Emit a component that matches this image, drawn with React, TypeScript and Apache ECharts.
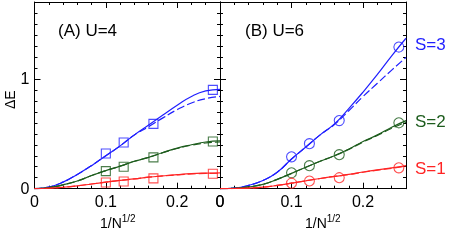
import React, { useEffect, useRef } from "react";
import * as echarts from "echarts";

// ---- data ----
const pointX = [0.1, 0.125, 0.1667, 0.25];
const curveX = [0, 0.02, 0.04, 0.06, 0.08, 0.1, 0.12, 0.14, 0.16, 0.18, 0.2, 0.22, 0.24, 0.26];

// Panel A (U=4) measured points
const aS3 = [0.32, 0.42, 0.59, 0.9];
const aS2 = [0.16, 0.2, 0.285, 0.43];
const aS1 = [0.057, 0.066, 0.094, 0.136];
// Panel A fit curves
const aS3Solid = [0, 0.015, 0.06, 0.13, 0.21, 0.3, 0.39, 0.49, 0.58, 0.67, 0.76, 0.84, 0.89, 0.905];
const aS3Dash = [0, 0.015, 0.06, 0.13, 0.21, 0.3, 0.39, 0.49, 0.565, 0.645, 0.72, 0.78, 0.82, 0.84];
const aS2Solid = [0, 0.01, 0.035, 0.07, 0.12, 0.165, 0.205, 0.25, 0.285, 0.33, 0.37, 0.4, 0.425, 0.435];
const aS2Dash = [0, 0.01, 0.035, 0.07, 0.12, 0.165, 0.205, 0.25, 0.285, 0.328, 0.366, 0.396, 0.416, 0.425];
const aS1Solid = [0, 0.004, 0.013, 0.026, 0.043, 0.06, 0.076, 0.09, 0.105, 0.117, 0.128, 0.137, 0.142, 0.145];
const aS1Dash = [0, 0.004, 0.013, 0.026, 0.043, 0.06, 0.076, 0.09, 0.105, 0.116, 0.126, 0.134, 0.139, 0.141];

// Panel B (U=6) measured points
const bS3 = [0.29, 0.41, 0.62, 1.29];
const bS2 = [0.145, 0.21, 0.31, 0.6];
const bS1 = [0.05, 0.07, 0.1, 0.19];
// Panel B fit curves
const bS3Solid = [0, 0.006, 0.03, 0.075, 0.15, 0.27, 0.38, 0.49, 0.59, 0.73, 0.88, 1.04, 1.21, 1.37];
const bS3Dash = [0, 0.006, 0.03, 0.075, 0.15, 0.27, 0.38, 0.49, 0.585, 0.71, 0.84, 0.96, 1.08, 1.195];
const bS2Solid = [0, 0.004, 0.016, 0.04, 0.085, 0.14, 0.195, 0.25, 0.3, 0.36, 0.43, 0.49, 0.56, 0.62];
const bS2Dash = [0, 0.004, 0.016, 0.04, 0.085, 0.14, 0.195, 0.25, 0.3, 0.358, 0.425, 0.485, 0.55, 0.607];
const bS1Solid = [0, 0.002, 0.006, 0.014, 0.03, 0.05, 0.072, 0.093, 0.112, 0.13, 0.152, 0.172, 0.19, 0.21];
const bS1Dash = [0, 0.002, 0.006, 0.014, 0.03, 0.05, 0.072, 0.093, 0.112, 0.129, 0.15, 0.169, 0.186, 0.204];

const panelTitles = ["(A) U=4", "(B) U=6"];
const seriesLabels = ["S=3", "S=2", "S=1"];

const BLUE = "#1f1fff";
const GREEN = "#1d5c1d";
const RED = "#ff2424";
const FONT = "Liberation Sans, Arial, sans-serif";

const zip = (xs: number[], ys: number[]) => xs.map((x, i) => [x, ys[i]]);

export default function App() {
  const ref = useRef<HTMLDivElement>(null);
  useEffect(() => {
    if (!ref.current) return;
    const chart = echarts.init(ref.current, undefined, { renderer: "svg" });

    const xBase = (grid: number, pos: "bottom" | "top", labels: boolean) => ({
      type: "value",
      gridIndex: grid,
      position: pos,
      min: 0,
      max: 0.26,
      interval: 0.1,
      axisLine: { show: true, onZero: false, lineStyle: { color: "#000", width: 1 } },
      axisTick: { show: true, inside: true, length: 6, lineStyle: { color: "#000" } },
      minorTick: { show: true, splitNumber: 5, length: 3, lineStyle: { color: "#000" } },
      splitLine: { show: false },
      axisLabel: {
        show: labels,
        showMinLabel: true,
        showMaxLabel: false,
        hideOverlap: false,
        color: "#000",
        fontSize: 16,
        fontFamily: FONT,
        margin: 5,
        formatter: (v: number) => String(Math.round(v * 10) / 10),
      },
    });
    const yBase = (grid: number, pos: "left" | "right", labels: boolean) => ({
      type: "value",
      gridIndex: grid,
      position: pos,
      min: 0,
      max: 1.7,
      interval: 1,
      axisLine: { show: true, onZero: false, lineStyle: { color: "#000", width: 1 } },
      axisTick: { show: true, inside: true, length: 6, lineStyle: { color: "#000" } },
      minorTick: { show: true, splitNumber: 10, length: 3, lineStyle: { color: "#000" } },
      splitLine: { show: false },
      axisLabel: { show: labels, showMinLabel: true, showMaxLabel: false, color: "#000", fontSize: 16, fontFamily: FONT, margin: 5 },
    });

    const lineSeries = (xi: number, data: number[], color: string, dashed: boolean) => ({
      type: "line",
      xAxisIndex: xi,
      yAxisIndex: xi,
      data: zip(curveX, data),
      smooth: true,
      symbol: "none",
      lineStyle: { color, width: 1.2, type: dashed ? [8, 3] : "solid" },
      z: 2,
    });
    const markSeries = (xi: number, data: number[], color: string, symbol: string, size: number) => ({
      type: "scatter",
      xAxisIndex: xi,
      yAxisIndex: xi,
      data: zip(pointX, data),
      symbol,
      symbolSize: size,
      itemStyle: { color: "transparent", borderColor: color, borderWidth: 1.1 },
      z: 3,
    });

    const series: any[] = [];
    const panels = [
      { xi: 0, sym: "rect", size: 9, sets: [[aS3, aS3Solid, aS3Dash, BLUE], [aS2, aS2Solid, aS2Dash, GREEN], [aS1, aS1Solid, aS1Dash, RED]] },
      { xi: 2, sym: "circle", size: 10, sets: [[bS3, bS3Solid, bS3Dash, BLUE], [bS2, bS2Solid, bS2Dash, GREEN], [bS1, bS1Solid, bS1Dash, RED]] },
    ];
    panels.forEach((p) => {
      p.sets.forEach((s: any) => {
        series.push(lineSeries(p.xi, s[1], s[3], false));
        series.push(lineSeries(p.xi, s[2], s[3], true));
        series.push(markSeries(p.xi, s[0], s[3], p.sym, p.size));
      });
    });

    const axisName = (left: number) => ({
      type: "text",
      left,
      top: 213,
      style: {
        text: "{a|1/N}{b|1/2}",
        rich: {
          a: { fontSize: 14, fontFamily: FONT, fill: "#000", color: "#000" },
          b: { fontSize: 10, fontFamily: FONT, fill: "#000", color: "#000", padding: [0, 0, 9, 0] },
        },
      },
    });

    const bottomA: any = xBase(0, "bottom", true);
    // the right edge of panel A is the origin of panel B: its label reads "0"
    bottomA.axisLabel = {
      ...bottomA.axisLabel,
      showMaxLabel: true,
      formatter: (v: number) => (v > 0.25 ? "0" : String(Math.round(v * 10) / 10)),
    };

    chart.setOption({
      animation: false,
      grid: [
        { left: 34.5, top: 2, width: 185.5, height: 186.7 },
        { left: 220, top: 2, width: 186, height: 186.7 },
      ],
      xAxis: [bottomA, xBase(0, "top", false), xBase(1, "bottom", true), xBase(1, "top", false)],
      yAxis: [yBase(0, "left", true), yBase(0, "right", false), yBase(1, "left", false), yBase(1, "right", false)],
      series,
      graphic: [
        { type: "text", left: 58, top: 22, style: { text: panelTitles[0], fontSize: 17, fontFamily: FONT, fill: "#000" } },
        { type: "text", left: 245, top: 22, style: { text: panelTitles[1], fontSize: 17, fontFamily: FONT, fill: "#000" } },
        { type: "text", left: 415, top: 36, style: { text: seriesLabels[0], fontSize: 17, fontFamily: FONT, fill: BLUE } },
        { type: "text", left: 415, top: 113, style: { text: seriesLabels[1], fontSize: 17, fontFamily: FONT, fill: GREEN } },
        { type: "text", left: 415, top: 160, style: { text: seriesLabels[2], fontSize: 17, fontFamily: FONT, fill: RED } },
        axisName(100),
        axisName(305),
        {
          type: "text",
          x: 3,
          y: 109,
          rotation: Math.PI / 2,
          style: { text: "ΔE", fontSize: 14, fontFamily: FONT, fill: "#000" },
        },
      ],
    });
    return () => chart.dispose();
  }, []);
  return <div ref={ref} style={{ position: "fixed", left: 0, top: 0, width: 452, height: 243 }} />;
}
